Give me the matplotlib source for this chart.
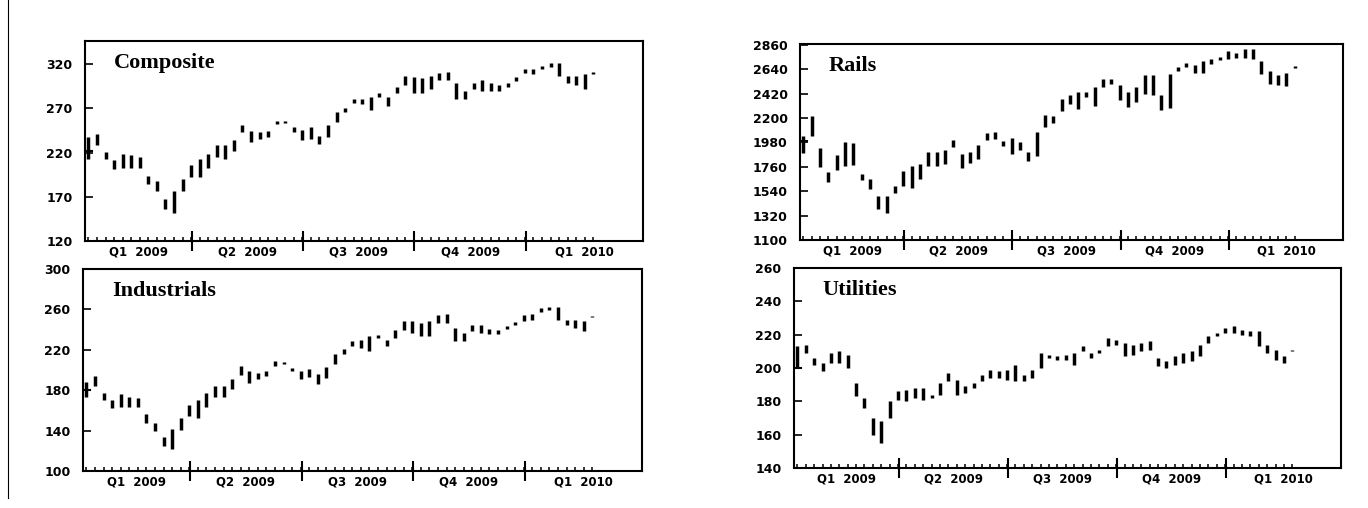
import matplotlib.pyplot as plt
from matplotlib.transforms import blended_transform_factory
from matplotlib.lines import Line2D
import numpy as np

# weekly high/low bars, Jan 2009 - Feb 2010
weeks = np.arange(60)
quarter_labels = ['Q1  2009', 'Q2  2009', 'Q3  2009', 'Q4  2009', 'Q1  2010']

composite_high = [237, 241, 221, 211, 218, 217, 215, 194, 188, 167,
                  177, 190, 206, 213, 218, 228, 229, 234, 251, 244,
                  243, 244, 256, 256, 249, 245, 249, 239, 251, 266,
                  270, 281, 281, 283, 287, 283, 294, 306, 305, 304,
                  306, 310, 311, 298, 289, 298, 302, 298, 296, 298,
                  305, 314, 314, 318, 321, 321, 307, 306, 309, 311]
composite_low = [213, 228, 213, 201, 203, 203, 203, 184, 177, 156,
                 152, 177, 192, 192, 203, 215, 213, 222, 243, 232,
                 235, 237, 252, 253, 243, 234, 235, 230, 237, 254,
                 266, 276, 275, 268, 283, 273, 287, 296, 287, 287,
                 292, 302, 302, 281, 281, 292, 290, 289, 289, 294,
                 301, 310, 309, 314, 317, 307, 298, 296, 292, 309]

rails_high = [2034, 2218, 1930, 1713, 1870, 1980, 1974, 1698, 1647, 1498,
              1498, 1588, 1722, 1766, 1790, 1891, 1891, 1909, 1998, 1879,
              1891, 1959, 2069, 2075, 1989, 2019, 1980, 1891, 2078, 2227,
              2218, 2375, 2405, 2435, 2435, 2480, 2554, 2554, 2494, 2435,
              2480, 2584, 2584, 2405, 2598, 2664, 2694, 2682, 2711, 2732,
              2753, 2801, 2783, 2821, 2821, 2717, 2622, 2584, 2604, 2670]
rails_low = [1885, 2034, 1760, 1623, 1730, 1772, 1781, 1641, 1558, 1380,
             1344, 1522, 1588, 1573, 1653, 1766, 1772, 1790, 1938, 1751,
             1796, 1831, 2004, 2010, 1944, 1879, 1909, 1811, 1861, 2117,
             2158, 2265, 2325, 2286, 2390, 2307, 2480, 2509, 2360, 2301,
             2346, 2420, 2405, 2271, 2295, 2622, 2658, 2604, 2604, 2688,
             2723, 2732, 2741, 2741, 2732, 2598, 2503, 2494, 2485, 2655]

industrials_high = [188, 194, 177, 170, 176, 173, 172, 156, 148, 134,
                    142, 152, 165, 170, 177, 184, 184, 191, 204, 199,
                    197, 199, 209, 208, 202, 199, 201, 196, 203, 216,
                    221, 229, 230, 234, 235, 230, 240, 249, 249, 247,
                    249, 254, 255, 242, 237, 245, 245, 241, 240, 244,
                    248, 254, 255, 261, 262, 262, 250, 250, 249, 253]
industrials_low = [173, 184, 170, 162, 163, 163, 163, 148, 140, 125,
                   122, 141, 154, 152, 163, 173, 173, 181, 195, 187,
                   191, 194, 204, 206, 199, 191, 193, 186, 192, 206,
                   216, 224, 222, 219, 232, 224, 232, 240, 237, 234,
                   234, 247, 247, 229, 229, 239, 237, 236, 236, 241,
                   245, 249, 250, 257, 259, 250, 245, 242, 239, 252]

utilities_high = [213, 214, 206, 203, 209, 210, 208, 191, 182, 170,
                  168, 180, 186, 187, 188, 188, 184, 191, 197, 193,
                  189, 191, 196, 199, 198, 199, 202, 196, 199, 209,
                  208, 207, 208, 209, 213, 209, 211, 218, 217, 215,
                  214, 215, 216, 206, 204, 207, 209, 210, 214, 219,
                  221, 224, 225, 223, 222, 222, 214, 211, 207, 211]
utilities_low = [200, 209, 202, 198, 203, 203, 200, 183, 176, 160,
                 155, 170, 181, 180, 182, 181, 182, 184, 192, 184,
                 185, 188, 192, 194, 194, 193, 192, 192, 194, 200,
                 206, 205, 205, 202, 210, 206, 209, 213, 214, 207,
                 208, 210, 211, 201, 200, 202, 203, 204, 207, 215,
                 219, 221, 221, 220, 219, 213, 209, 205, 203, 210]

# close mark drawn on the first bar only
first_close = {'Composite': 222, 'Rails': 1989, 'Industrials': 180, 'Utilities': 200}

panels = [
    ('Composite', composite_high, composite_low, [120, 170, 220, 270, 320], (120, 346),
     [85, 41, 643, 241]),
    ('Rails', rails_high, rails_low, list(range(1100, 2861, 220)), (1100, 2868),
     [800, 44, 1343, 240]),
    ('Industrials', industrials_high, industrials_low, list(range(100, 301, 40)), (100, 300),
     [83, 269, 642, 471]),
    ('Utilities', utilities_high, utilities_low, list(range(140, 261, 20)), (140, 260),
     [794, 268, 1341, 468]),
]

W, H = 1368, 508
fig = plt.figure(figsize=(W / 100, H / 100), dpi=100)

q_bounds = [12.1, 25.1, 38.1, 51.1]
x_left, x_right = -0.4, 64.8
edges = [x_left] + q_bounds + [x_right]

for name, hi, lo, yt, ylim, box in panels:
    l, t, r, b = box
    ax = fig.add_axes([l / W, 1 - b / H, (r - l) / W, (b - t) / H])
    ax.vlines(weeks, lo, hi, color='black', lw=2.5)
    ax.plot([-0.45, 0.45], [first_close[name]] * 2, color='black', lw=1.5)

    ax.set_xlim(x_left, x_right)
    ax.set_ylim(*ylim)
    ax.set_yticks(yt)
    ax.set_yticklabels([str(v) for v in yt], fontsize=9, fontweight='bold',
                       family='DejaVu Sans')
    ax.set_xticks(q_bounds)
    ax.set_xticklabels([])
    ax.set_xticks(weeks, minor=True)
    ax.tick_params(axis='y', direction='in', length=6, width=1.2, pad=9)
    ax.tick_params(axis='x', which='major', direction='inout', length=15, width=1.5)
    ax.tick_params(axis='x', which='minor', direction='in', length=3.2, width=1.1)
    for s in ax.spines.values():
        s.set_linewidth(1.5)

    tr = blended_transform_factory(ax.transData, ax.transAxes)
    for i, lab in enumerate(quarter_labels):
        ax.text((edges[i] + edges[i + 1]) / 2, -0.055, lab, transform=tr,
                ha='center', va='center', fontsize=8.5, fontweight='bold',
                family='DejaVu Sans')

    ax.text(0.052, 0.94, name, transform=ax.transAxes, ha='left', va='top',
            fontsize=16, fontweight='bold', family='Liberation Serif')

# scan frame line on the left edge
fig.add_artist(Line2D([8 / W, 8 / W], [0.02, 1.0], color='black', lw=0.8))

fig.savefig('out.png', dpi=100)
